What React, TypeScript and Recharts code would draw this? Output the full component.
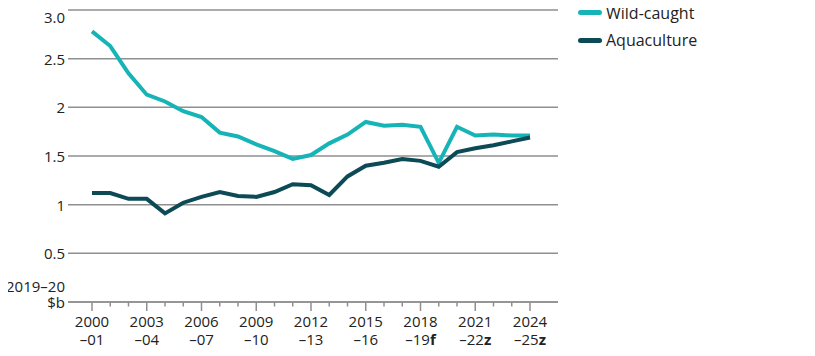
import React from "react";
import {
  LineChart,
  Line,
  XAxis,
  YAxis,
  CartesianGrid,
  Legend,
} from "recharts";

const periods = [
  "2000–01", "2001–02", "2002–03", "2003–04", "2004–05", "2005–06", "2006–07",
  "2007–08", "2008–09", "2009–10", "2010–11", "2011–12", "2012–13", "2013–14",
  "2014–15", "2015–16", "2016–17", "2017–18", "2018–19", "2019–20", "2020–21",
  "2021–22", "2022–23", "2023–24", "2024–25",
];

const wildCaught = [
  2.78, 2.63, 2.35, 2.13, 2.06, 1.96, 1.9, 1.74, 1.7, 1.62, 1.55, 1.47, 1.51,
  1.63, 1.72, 1.85, 1.81, 1.82, 1.8, 1.43, 1.8, 1.71, 1.72, 1.71, 1.71,
];

const aquaculture = [
  1.12, 1.12, 1.06, 1.06, 0.91, 1.02, 1.08, 1.13, 1.09, 1.08, 1.13, 1.21, 1.2,
  1.1, 1.29, 1.4, 1.43, 1.47, 1.45, 1.39, 1.54, 1.58, 1.61, 1.65, 1.69,
];

const tickYears = ["2000", "2003", "2006", "2009", "2012", "2015", "2018", "2021", "2024"];
const tickEnds = ["–01", "–04", "–07", "–10", "–13", "–16", "–19", "–22", "–25"];
const tickSuffix = ["", "", "", "", "", "", "f", "z", "z"];

const yTicks = [0, 0.5, 1, 1.5, 2, 2.5, 3];
const yLabels = ["$b", "0.5", "1", "1.5", "2", "2.5", "3.0"];
const yUnit = "2019–20";

const WILD = "#17b4b7";
const AQUA = "#0c4a56";
const GRID = "#8f8f8f";
const FONT = "'Open Sans', sans-serif";
const TEXT = "#222";

const data = periods.map((p, i) => ({
  period: p,
  wild: wildCaught[i],
  aqua: aquaculture[i],
}));

const XTick = (props: any) => {
  const { x, y, index } = props;
  const labelled = index % 3 === 0;
  const k = index / 3;
  return (
    <g>
      <line x1={x} x2={x} y1={y} y2={y + (labelled ? 9 : 4.5)} stroke={GRID} strokeWidth={1.5} />
      {labelled && (
        <text x={x} y={y + 25} textAnchor="middle" fontFamily={FONT} fontSize={15} fill={TEXT}>
          <tspan x={x}>{tickYears[k]}</tspan>
          <tspan x={x} dy={18}>
            {tickEnds[k]}
            {tickSuffix[k] && <tspan fontWeight="bold">{tickSuffix[k]}</tspan>}
          </tspan>
        </text>
      )}
    </g>
  );
};

const YTick = (props: any) => {
  const { x, y, payload } = props;
  const idx = yTicks.indexOf(payload.value);
  if (idx === 0) {
    return (
      <text x={x} y={y - 10} textAnchor="end" fontFamily={FONT} fontSize={15} fill={TEXT}>
        <tspan x={x}>{yUnit}</tspan>
        <tspan x={x} dy={16}>{yLabels[idx]}</tspan>
      </text>
    );
  }
  return (
    <text x={x} y={y + 6} textAnchor="end" fontFamily={FONT} fontSize={15} fill={TEXT}>
      {yLabels[idx]}
    </text>
  );
};

const LegendContent = () => (
  <div style={{ fontFamily: FONT, fontSize: 16, color: TEXT }}>
    {[
      { name: "Wild-caught", color: WILD },
      { name: "Aquaculture", color: AQUA },
    ].map((item) => (
      <div key={item.name} style={{ display: "flex", alignItems: "center", height: 27.5 }}>
        <span
          style={{
            display: "inline-block",
            width: 24,
            height: 5,
            borderRadius: 3,
            background: item.color,
            marginRight: 4,
          }}
        />
        {item.name}
      </div>
    ))}
  </div>
);

export default function App() {
  return (
    <LineChart
      width={800}
      height={348}
      data={data}
      margin={{ top: 2, right: 250, bottom: 0, left: 0 }}
    >
      <CartesianGrid vertical={false} stroke={GRID} strokeWidth={1.5} />
      <XAxis
        dataKey="period"
        interval={0}
        padding={{ left: 24, right: 28 }}
        height={54}
        tickSize={0}
        tickMargin={0}
        tickLine={false}
        axisLine={{ stroke: GRID, strokeWidth: 1.5 }}
        tick={<XTick />}
      />
      <YAxis
        domain={[0, 3]}
        ticks={yTicks}
        width={60}
        tickSize={0}
        tickMargin={3}
        tickLine={false}
        axisLine={false}
        tick={<YTick />}
      />
      <Legend
        layout="vertical"
        align="center"
        verticalAlign="middle"
        content={<LegendContent />}
        wrapperStyle={{ left: 570, top: -9, width: 160 }}
      />
      <Line
        dataKey="wild"
        stroke={WILD}
        strokeWidth={4}
        dot={false}
        isAnimationActive={false}
      />
      <Line
        dataKey="aqua"
        stroke={AQUA}
        strokeWidth={4}
        dot={false}
        isAnimationActive={false}
      />
    </LineChart>
  );
}
